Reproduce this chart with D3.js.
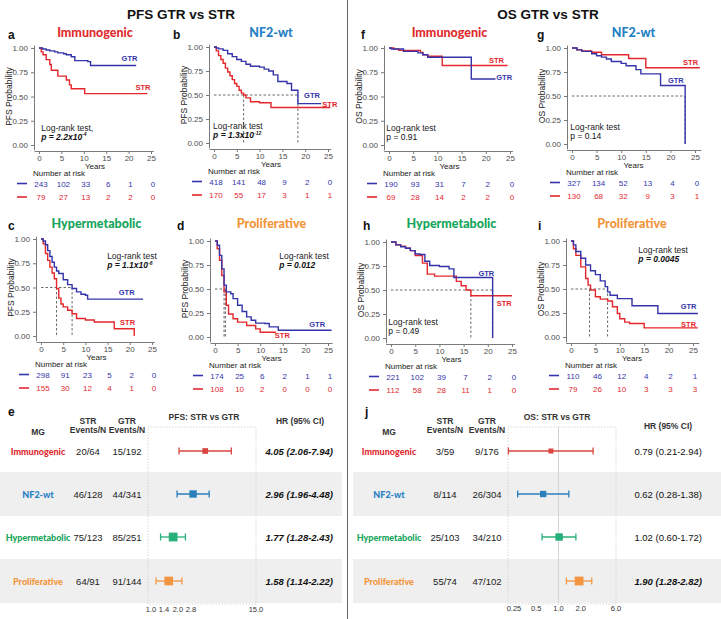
<!DOCTYPE html>
<html>
<head>
<meta charset="utf-8">
<script src="https://cdnjs.cloudflare.com/ajax/libs/d3/7.8.5/d3.min.js"></script>
<style>
  body { margin: 0; background: #fff; }
  svg { display: block; font-family: "Liberation Sans", Arial, sans-serif; }
  .tick text { fill: #4d4d4d; font-size: 8px; }
  .tick line, .domain { stroke: #7a7a7a; }
</style>
</head>
<body>
<div id="chart"></div>
<script>
// ---- data ----
var groups = ["Immunogenic", "NF2-wt", "Hypermetabolic", "Proliferative"];
var riskYears = [0, 5, 10, 15, 20, 25];
var probTicks = [0, 0.25, 0.5, 0.75, 1];

// Kaplan-Meier step points [years, survival]
var pfsImmGTR = [[0,1],[0.8,0.99],[1.6,0.98],[2.4,0.97],[3.5,0.96],[4.2,0.95],[5.5,0.94],[6.1,0.93],[7.2,0.91],[8,0.87],[10.9,0.86],[11.5,0.82],[21.7,0.82]];
var pfsImmSTR = [[0,1],[0.5,0.96],[0.9,0.93],[1.6,0.88],[2.4,0.83],[2.75,0.77],[4.2,0.71],[6.1,0.67],[6.8,0.62],[7.2,0.58],[10.2,0.53],[24.2,0.53]];
var pfsNf2GTR = [[0,1],[0.5,0.99],[1,0.98],[2,0.965],[3,0.93],[4,0.9],[5,0.87],[6,0.85],[7,0.82],[8,0.8],[10,0.79],[11,0.77],[12,0.75],[13,0.71],[14,0.64],[16,0.62],[17,0.55],[18.4,0.41],[23.5,0.41]];
var pfsNf2STR = [[0,1],[0.5,0.96],[1,0.91],[1.5,0.87],[2,0.83],[2.5,0.78],[3,0.74],[3.5,0.7],[4,0.66],[4.5,0.62],[5,0.59],[5.5,0.55],[6,0.52],[6.5,0.5],[7,0.47],[8,0.43],[10,0.42],[12.5,0.37],[25.5,0.37]];
var pfsHypGTR = [[0,1],[0.5,0.98],[1,0.94],[1.5,0.88],[2,0.82],[2.5,0.76],[3,0.71],[3.5,0.67],[4,0.645],[5,0.58],[6,0.53],[7,0.49],[8,0.455],[9,0.43],[10,0.42],[10.5,0.38],[23,0.38]];
var pfsHypSTR = [[0,1],[0.5,0.95],[1,0.85],[1.5,0.78],[2,0.71],[2.5,0.65],[3,0.59],[3.5,0.49],[4,0.39],[4.5,0.33],[5,0.3],[6,0.265],[7,0.23],[8,0.18],[10,0.165],[12,0.145],[16.5,0.075],[21,0]];
var pfsProGTR = [[0,1],[0.5,0.955],[1,0.85],[1.5,0.71],[2,0.54],[2.5,0.47],[3.5,0.45],[4,0.4],[5,0.33],[6,0.265],[7,0.21],[8,0.175],[9,0.145],[11,0.14],[12,0.105],[14,0.07],[25.8,0.07]];
var pfsProSTR = [[0,1],[0.5,0.92],[1,0.8],[1.5,0.64],[2,0.47],[2.5,0.33],[3,0.24],[4,0.19],[5,0.155],[7,0.12],[9,0.085],[10,0.05],[13.5,0.05]];
var osImmGTR = [[0,1],[0.5,0.99],[3,0.965],[6,0.95],[7,0.93],[8,0.905],[17,0.68],[22,0.68]];
var osImmSTR = [[0,1],[1,0.99],[2,0.976],[6.5,0.955],[7,0.93],[8,0.915],[11,0.82],[24.5,0.82]];
var osNf2GTR = [[0,1],[1,0.98],[2,0.965],[4,0.94],[5,0.92],[6,0.905],[7,0.885],[8,0.86],[10,0.84],[11,0.815],[13,0.775],[14,0.73],[18,0.61],[23,0]];
var osNf2STR = [[0,1],[1,0.98],[2,0.97],[4,0.955],[6,0.93],[11.5,0.89],[15,0.795],[26,0.795]];
var osHypGTR = [[0,1],[1,0.97],[2,0.95],[3,0.935],[4,0.91],[5,0.875],[6,0.87],[7,0.8],[8,0.755],[10,0.745],[12,0.72],[13,0.63],[21,0]];
var osHypSTR = [[0,1],[1,0.97],[2,0.955],[3,0.935],[4,0.91],[5,0.86],[6.5,0.78],[7.5,0.665],[9,0.645],[13.5,0.59],[14.5,0.545],[15.5,0.5],[16.5,0.44],[25,0.44]];
var osProGTR = [[0,1],[0.5,0.96],[1,0.89],[2,0.82],[3,0.75],[4,0.69],[5,0.65],[6,0.585],[7,0.525],[7.5,0.47],[8,0.435],[9.5,0.4],[12.5,0.325],[17.8,0.245],[26,0.245]];
var osProSTR = [[0,1],[0.5,0.92],[1,0.85],[2,0.73],[3,0.61],[3.5,0.54],[4,0.49],[5,0.42],[6,0.395],[7.5,0.375],[8.5,0.315],[9.5,0.245],[10,0.19],[11,0.155],[12,0.14],[15,0.095],[26,0.095]];

// numbers at risk (GTR row, STR row) at riskYears
var pfsRiskGTR = [[243,102,33,6,1,0],[418,141,48,9,2,0],[298,91,23,5,2,0],[174,25,6,2,1,1]];
var pfsRiskSTR = [[79,27,13,2,2,0],[170,55,17,3,1,1],[155,30,12,4,1,0],[108,10,2,0,0,0]];
var osRiskGTR = [[190,93,31,7,2,0],[327,134,52,13,4,0],[221,102,39,7,2,0],[110,46,12,4,2,1]];
var osRiskSTR = [[69,28,14,2,2,0],[130,68,32,9,3,1],[112,58,28,11,1,0],[79,26,10,3,3,3]];

// median survival times drawn as dashed guides
var pfsMedians = [[], [6.5, 18.4], [3.5, 7], [2.0, 2.3]];
var osMedians = [[], [23], [16.5, 21], [3.8, 7.5]];

// log-rank p values
var pfsP = ["2.2x10^-4", "1.3x10^-12", "1.1x10^-6", "0.012"];
var osP = ["0.91", "0.14", "0.49", "0.0045"];

// forest plots: events/N and hazard ratios [HR, lower, upper]
var pfsStrN = ["20/64", "46/128", "75/123", "64/91"];
var pfsGtrN = ["15/192", "44/341", "85/251", "91/144"];
var pfsHR = [[4.05, 2.06, 7.94], [2.96, 1.96, 4.48], [1.77, 1.28, 2.43], [1.58, 1.14, 2.22]];
var pfsHRTicks = [1.0, 1.4, 2.0, 2.8, 15.0];
var osStrN = ["3/59", "8/114", "25/103", "55/74"];
var osGtrN = ["9/176", "26/304", "34/210", "47/102"];
var osHR = [[0.79, 0.21, 2.94], [0.62, 0.28, 1.38], [1.02, 0.60, 1.72], [1.90, 1.28, 2.82]];
var osHRTicks = [0.25, 0.5, 1.0, 2.0, 6.0];

// ---- styling ----
var titleColors = ["#e02b2f", "#1f80c4", "#16a55c", "#f3953a"];
var forestColors = ["#d9463f", "#2a7fba", "#27b07a", "#f39541"];
var gtrColor = "#3434aa", strColor = "#e3272c";

var svg = d3.select("#chart").append("svg")
    .attr("width", 721)
    .attr("height", 619);

// section titles and divider
svg.append("text").attr("x", 181).attr("y", 19).attr("text-anchor", "middle")
    .style("font-size", "13.5px").style("font-weight", "bold").style("fill", "#111").text("PFS GTR vs STR");
svg.append("text").attr("x", 548).attr("y", 19).attr("text-anchor", "middle")
    .style("font-size", "13.5px").style("font-weight", "bold").style("fill", "#111").text("OS GTR vs STR");
svg.append("line").attr("x1", 347.5).attr("x2", 347.5).attr("y1", 0).attr("y2", 619)
    .attr("stroke", "#666").attr("stroke-width", 1);

function pValue(s) {
    var parts = s.split("x10^");
    return parts.length > 1 ? +parts[0] * Math.pow(10, +parts[1]) : +s;
}

// layout for each KM panel (pixels)
var kmLayout = [
    {letter: "a", x0: 39, x25: 151, y1: 48, y0: 145, lx: 8, ty: 37, xmax: 25.5, gl: [20.2, 0.9], sl: [23.2, 0.6], lr: [0.5, 0.148]},
    {letter: "b", x0: 214, x25: 328, y1: 47, y0: 143, lx: 173, ty: 37, xmax: 25.6, gl: [21.5, 0.5], sl: [25.4, 0.41], lr: [-0.2, 0.145]},
    {letter: "c", x0: 41, x25: 152, y1: 239, y0: 336, lx: 8, ty: 228, xmax: 25.5, gl: [19.3, 0.455], sl: [19.5, 0.14], lr: [14.9, 0.79]},
    {letter: "d", x0: 215, x25: 328, y1: 241, y0: 337, lx: 177, ty: 228, xmax: 25.9, gl: [22.6, 0.14], sl: [14.9, 0.025], lr: [14.2, 0.816]},
    {letter: "f", x0: 389, x25: 510, y1: 48, y0: 145, lx: 361, ty: 37, xmax: 25.5, gl: [23.8, 0.70], sl: [22.2, 0.88], lr: [-0.55, 0.148]},
    {letter: "g", x0: 572, x25: 695, y1: 48, y0: 144, lx: 537, ty: 37, xmax: 26.2, gl: [21.1, 0.67], sl: [24.1, 0.85], lr: [-0.34, 0.142]},
    {letter: "h", x0: 391, x25: 512, y1: 242, y0: 338, lx: 363, ty: 228, xmax: 25.5, gl: [19.7, 0.68], sl: [23.4, 0.36], lr: [-0.55, 0.14]},
    {letter: "i", x0: 571, x25: 693, y1: 241, y0: 337, lx: 538, ty: 228, xmax: 26.2, gl: [24.1, 0.32], sl: [24.1, 0.14], lr: [13.8, 0.87]}
];

var kmCurves = [
    [pfsImmGTR, pfsImmSTR], [pfsNf2GTR, pfsNf2STR], [pfsHypGTR, pfsHypSTR], [pfsProGTR, pfsProSTR],
    [osImmGTR, osImmSTR], [osNf2GTR, osNf2STR], [osHypGTR, osHypSTR], [osProGTR, osProSTR]
];

kmLayout.forEach(function(p, i) {
    var os = i >= 4, k = i % 4;
    drawKM(p, {
        group: k,
        ylab: os ? "OS Probability" : "PFS Probability",
        gtr: kmCurves[i][0], str: kmCurves[i][1],
        riskG: (os ? osRiskGTR : pfsRiskGTR)[k],
        riskS: (os ? osRiskSTR : pfsRiskSTR)[k],
        medians: (os ? osMedians : pfsMedians)[k],
        p: (os ? osP : pfsP)[k],
        comma: !os && k === 0
    });
});

function drawKM(p, d) {
    var x = d3.scaleLinear().domain([0, 25]).range([p.x0, p.x25]);
    var y = d3.scaleLinear().domain([0, 1]).range([p.y0, p.y1]);
    var g = svg.append("g");

    g.append("text").attr("x", p.lx).attr("y", p.ty + 2)
        .style("font-size", "12px").style("font-weight", "bold").style("fill", "#111").text(p.letter);
    g.append("text").attr("x", (p.x0 + p.x25) / 2).attr("y", p.ty)
        .attr("text-anchor", "middle")
        .style("font-family", "Lato, 'Open Sans', sans-serif").style("font-weight", "900")
        .style("font-size", "12.5px").style("fill", titleColors[d.group])
        .text(groups[d.group]);

    // axes with a little expansion like ggplot
    var yA = y.copy().domain([-0.05, 1.03]).range([y(-0.05), y(1.03)]);
    var xA = x.copy().domain([-1.1, p.xmax]).range([x(-1.1), x(p.xmax)]);

    g.append("g")
        .attr("transform", "translate(" + (p.x0 - 5) + ",0)")
        .call(d3.axisLeft(yA).tickValues(probTicks).tickFormat(d3.format(".2f")).tickSize(3).tickSizeOuter(0));
    g.append("g")
        .attr("transform", "translate(0," + (p.y0 + 6) + ")")
        .call(d3.axisBottom(xA).tickValues(riskYears).tickSize(3).tickPadding(1.5).tickSizeOuter(0));

    g.append("text")
        .attr("transform", "translate(" + (p.x0 - 27) + "," + ((p.y0 + p.y1) / 2) + ") rotate(-90)")
        .attr("text-anchor", "middle").style("font-size", "8.5px").style("fill", "#222")
        .text(d.ylab);
    g.append("text").attr("x", x(12.5)).attr("y", p.y0 + 23.5).attr("text-anchor", "middle")
        .style("font-size", "8px").style("fill", "#222").text("Years");

    // median guides
    if (d.medians.length) {
        var dash = {stroke: "#444", "stroke-width": 0.8, "stroke-dasharray": "2.5,2"};
        var hl = g.append("line").attr("x1", x(0)).attr("x2", x(d3.max(d.medians)))
            .attr("y1", y(0.5)).attr("y2", y(0.5));
        Object.keys(dash).forEach(function(a) { hl.attr(a, dash[a]); });
        d.medians.forEach(function(m) {
            var vl = g.append("line").attr("x1", x(m)).attr("x2", x(m))
                .attr("y1", y(0.5)).attr("y2", y(0));
            Object.keys(dash).forEach(function(a) { vl.attr(a, dash[a]); });
        });
    }

    var line = d3.line()
        .x(function(q) { return x(q[0]); })
        .y(function(q) { return y(q[1]); })
        .curve(d3.curveStepAfter);

    [[d.str, strColor], [d.gtr, gtrColor]].forEach(function(c) {
        g.append("path").datum(c[0]).attr("d", line)
            .attr("fill", "none").attr("stroke", c[1]).attr("stroke-width", 1.4);
    });

    g.append("text").attr("x", x(p.gl[0])).attr("y", y(p.gl[1]) + 3).attr("text-anchor", "middle")
        .style("font-size", "7.5px").style("font-weight", "bold").style("fill", gtrColor).text("GTR");
    g.append("text").attr("x", x(p.sl[0])).attr("y", y(p.sl[1]) + 3).attr("text-anchor", "middle")
        .style("font-size", "7.5px").style("font-weight", "bold").style("fill", strColor).text("STR");

    // log-rank annotation
    g.append("text").attr("x", x(p.lr[0])).attr("y", y(p.lr[1]))
        .style("font-size", "8.5px").style("fill", "#222")
        .text("Log-rank test" + (d.comma ? "," : ""));
    var sig = pValue(d.p) < 0.05;
    var parts = d.p.split("^");
    var pt = g.append("text").attr("x", x(p.lr[0])).attr("y", y(p.lr[1]) + 9)
        .style("font-size", "8.5px").style("fill", "#111")
        .style("font-weight", sig ? "bold" : "normal")
        .style("font-style", sig ? "italic" : "normal");
    pt.append("tspan").text("p = " + parts[0]);
    if (parts[1]) pt.append("tspan").attr("dy", -3.5).style("font-size", "5px").text(parts[1]);

    // number at risk table
    g.append("text").attr("x", p.x0 - 6).attr("y", p.y0 + 30.5)
        .style("font-size", "8px").style("fill", "#222").text("Number at risk");
    [[d.riskG, gtrColor, 41.5], [d.riskS, strColor, 55]].forEach(function(r) {
        g.append("line").attr("x1", p.x0 - 22).attr("x2", p.x0 - 12)
            .attr("y1", p.y0 + r[2] - 3).attr("y2", p.y0 + r[2] - 3)
            .attr("stroke", r[1]).attr("stroke-width", 1.6);
        g.selectAll(null).data(r[0]).enter().append("text")
            .attr("x", function(v, j) { return x(riskYears[j]) + 2; })
            .attr("y", p.y0 + r[2])
            .attr("text-anchor", "middle")
            .style("font-size", "8px").style("fill", r[1])
            .text(function(v) { return v; });
    });
}

// ---- forest plots ----
var rowY = [451, 494, 537, 581];

drawForest({
    letter: "e", lx: 8, mgX: 38, strX: 88, gtrX: 127, box: [148, 256], hrX: 333, ptX: 204, hrTX: 300,
    band: [0, 342], range: [151, 256], domain: [1, 15], hrTY: 424, refLine: false,
    title: "PFS: STR vs GTR", strN: pfsStrN, gtrN: pfsGtrN, hr: pfsHR, ticks: pfsHRTicks, tickY: 612
});
drawForest({
    letter: "j", lx: 365, mgX: 389, strX: 445, gtrX: 487, box: [508, 616], hrX: 702, ptX: 557, hrTX: 668,
    band: [353, 721], range: [514, 616], domain: [0.25, 6], hrTY: 429, refLine: true,
    title: "OS: STR vs GTR", strN: osStrN, gtrN: osGtrN, hr: osHR, ticks: osHRTicks, tickY: 611
});

function drawForest(f) {
    var x = d3.scaleLog().domain(f.domain).range(f.range);
    var events = f.strN.map(function(s, i) { return +s.split("/")[0] + +f.gtrN[i].split("/")[0]; });
    var size = d3.scaleSqrt().domain([0, d3.max(events)]).range([3, 8.8]);
    var g = svg.append("g");

    g.selectAll("rect.band").data([1, 3]).enter().append("rect")
        .attr("x", f.band[0]).attr("width", f.band[1] - f.band[0])
        .attr("y", function(i) { return rowY[i] - 22; }).attr("height", 44)
        .attr("fill", "#efefef");

    g.append("text").attr("x", f.lx).attr("y", 416)
        .style("font-size", "12px").style("font-weight", "bold").style("fill", "#111").text(f.letter);

    var hdr = function(tx, xx, yy) {
        g.append("text").attr("x", xx).attr("y", yy).attr("text-anchor", "middle")
            .style("font-size", "8.5px").style("font-weight", "bold").style("fill", "#333").text(tx);
    };
    hdr("MG", f.mgX, 435);
    hdr("STR", f.strX, 424); hdr("Events/N", f.strX, 433);
    hdr("GTR", f.gtrX, 424); hdr("Events/N", f.gtrX, 433);
    hdr(f.title, f.ptX, 420);
    hdr("HR (95% CI)", f.hrTX, f.hrTY);

    g.append("rect").attr("x", f.box[0]).attr("y", 427)
        .attr("width", f.box[1] - f.box[0]).attr("height", 177)
        .attr("fill", "none").attr("stroke", "#c8c8c8").attr("stroke-width", 0.7)
        .attr("stroke-dasharray", "1.5,1.5");
    if (f.refLine) {
        g.append("line").attr("x1", x(1)).attr("x2", x(1)).attr("y1", 427).attr("y2", 604)
            .attr("stroke", "#d4d4d4").attr("stroke-width", 1);
    }

    f.hr.forEach(function(h, i) {
        var cy = rowY[i], col = forestColors[i];
        g.append("text").attr("x", f.mgX).attr("y", cy + 3.5).attr("text-anchor", "middle")
            .style("font-family", "Lato, 'Open Sans', sans-serif").style("font-weight", "900")
            .style("font-size", "9px").style("fill", titleColors[i]).text(groups[i]);
        g.append("text").attr("x", f.strX).attr("y", cy + 3.5).attr("text-anchor", "middle")
            .style("font-size", "9.5px").style("fill", "#222").text(f.strN[i]);
        g.append("text").attr("x", f.gtrX).attr("y", cy + 3.5).attr("text-anchor", "middle")
            .style("font-size", "9.5px").style("fill", "#222").text(f.gtrN[i]);

        g.append("line").attr("x1", x(h[1])).attr("x2", x(h[2])).attr("y1", cy).attr("y2", cy)
            .attr("stroke", col).attr("stroke-width", 1.3);
        [h[1], h[2]].forEach(function(v) {
            g.append("line").attr("x1", x(v)).attr("x2", x(v)).attr("y1", cy - 3.5).attr("y2", cy + 3.5)
                .attr("stroke", col).attr("stroke-width", 1.3);
        });
        var s = size(events[i]);
        g.append("rect").attr("x", x(h[0]) - s / 2).attr("y", cy - s / 2)
            .attr("width", s).attr("height", s).attr("fill", col);

        var sig = h[1] > 1 || h[2] < 1;
        g.append("text").attr("x", f.hrX).attr("y", cy + 3.5).attr("text-anchor", "end")
            .style("font-size", "9.5px").style("fill", "#111")
            .style("font-weight", sig ? "bold" : "normal")
            .style("font-style", sig ? "italic" : "normal")
            .text(h[0].toFixed(2) + " (" + h[1].toFixed(2) + "-" + h[2].toFixed(2) + ")");
    });

    g.selectAll("text.ftick").data(f.ticks).enter().append("text")
        .attr("x", function(v) { return x(v); }).attr("y", f.tickY)
        .attr("text-anchor", "middle").style("font-size", "7.5px").style("fill", "#333")
        .text(function(v) { return v === 0.25 ? "0.25" : v.toFixed(1); });
}
</script>
</body>
</html>
